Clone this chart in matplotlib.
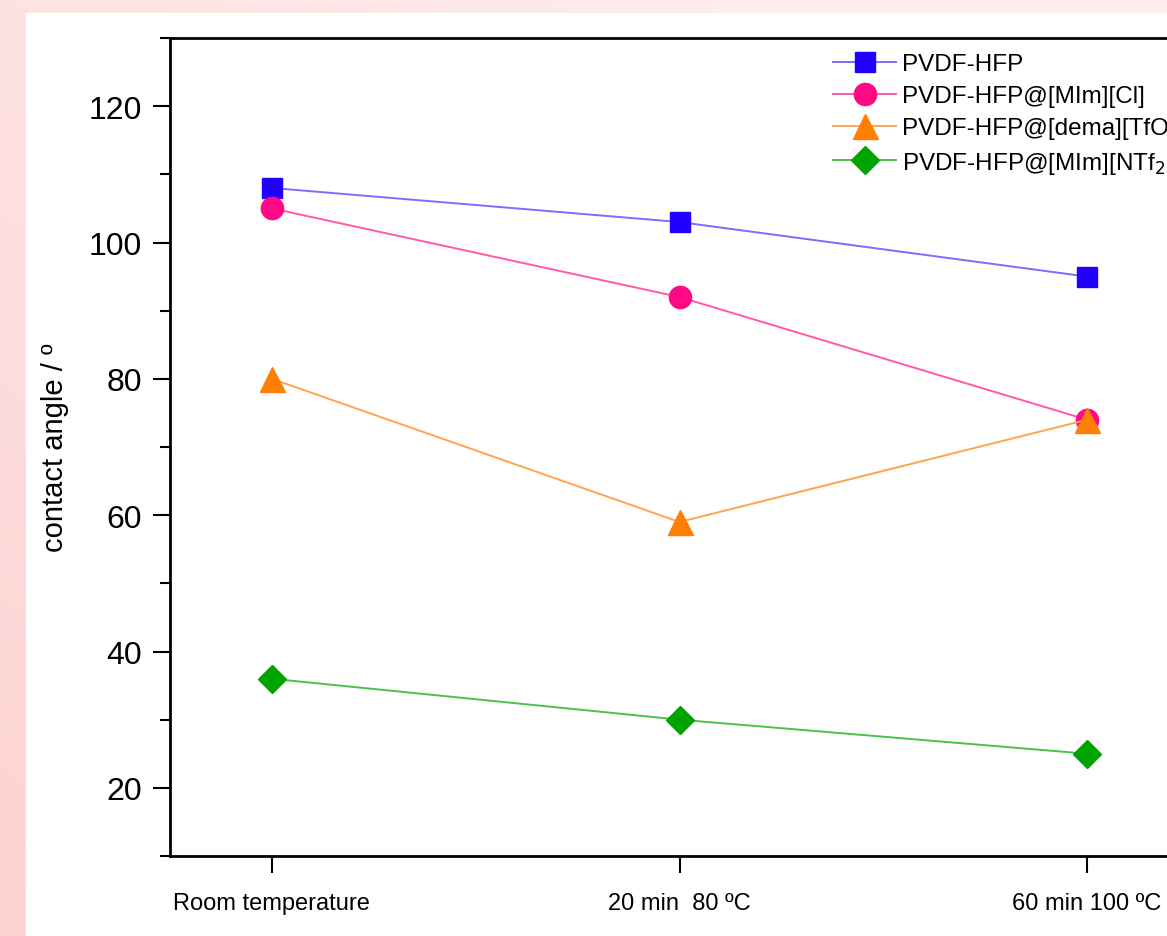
import numpy as np
import matplotlib.pyplot as plt
import matplotlib.colors as mcolors
from matplotlib.patches import Rectangle

plt.rcParams['font.family'] = ['Liberation Sans', 'DejaVu Sans']

conditions = ['Room temperature', '20 min  80 \u00baC', '60 min 100 \u00baC']
pvdf = [108, 103, 95]
mim_cl = [105, 92, 74]
dema_tfo = [80, 59, 74]
mim_ntf2 = [36, 30, 25]

series = [
    ('PVDF-HFP', pvdf, 's', '#2200ff', '#7a6dff', 15),
    ('PVDF-HFP@[MIm][Cl]', mim_cl, 'o', '#ff0a84', '#ff5aa8', 16),
    ('PVDF-HFP@[dema][TfO]', dema_tfo, '^', '#ff7f00', '#ffa552', 18),
    ('PVDF-HFP@[MIm][NTf$_2$]', mim_ntf2, 'D', '#00a300', '#4cc04c', 14),
]

fig = plt.figure(figsize=(11.67, 9.37), dpi=100)

# pink gradient background
bg = fig.add_axes([0, 0, 1, 1], zorder=-10)
bg.axis('off')
c1 = np.array(mcolors.to_rgb('#fdd2d2'))
c2 = np.array(mcolors.to_rgb('#fdeeec'))
gx, gy = np.meshgrid(np.linspace(0, 1, 200), np.linspace(0, 1, 200))
t = np.clip(0.6 * gx + 0.6 * gy, 0, 1)[..., None]
bg.imshow(c1 * (1 - t) + c2 * t, extent=[0, 1, 0, 1], origin='lower', aspect='auto')
bg.set_xlim(0, 1)
bg.set_ylim(0, 1)
bg.add_patch(Rectangle((26 / 1167, 0), 1, 1 - 14 / 937, color='white', zorder=2))

ax = fig.add_axes([170 / 1167, 80 / 937, 1019 / 1167, 818 / 937])
x = np.arange(len(conditions))
for name, vals, m, mc, lc, ms in series:
    ax.plot(x, vals, color=lc, lw=1.4, marker=m, markersize=ms,
            markerfacecolor=mc, markeredgecolor=mc, label=name)

ax.set_xlim(-0.25, 2.25)
ax.set_ylim(10, 130)
ax.set_xticks(x)
ax.set_xticklabels(conditions, fontsize=17)
ax.set_yticks([20, 40, 60, 80, 100, 120])
ax.set_yticks(np.arange(10, 131, 10), minor=True)
ax.tick_params(axis='y', labelsize=23, width=1.5, length=12, pad=8)
ax.tick_params(axis='y', which='minor', width=1.5, length=7)
ax.tick_params(axis='x', width=1.5, length=12, pad=14)
for s in ax.spines.values():
    s.set_linewidth(2)
ax.set_ylabel('contact angle / \u00ba', fontsize=21, labelpad=14)

# legend runs off the right edge, as in the original figure
ax.legend(loc='upper left', bbox_to_anchor=(833 / 1167, 1 - 54 / 937),
          bbox_transform=fig.transFigure, frameon=False, fontsize=17.5,
          handlelength=2.6, handletextpad=0.25, labelspacing=0.42,
          borderpad=0, borderaxespad=0)

fig.savefig('out.png', dpi=100)
